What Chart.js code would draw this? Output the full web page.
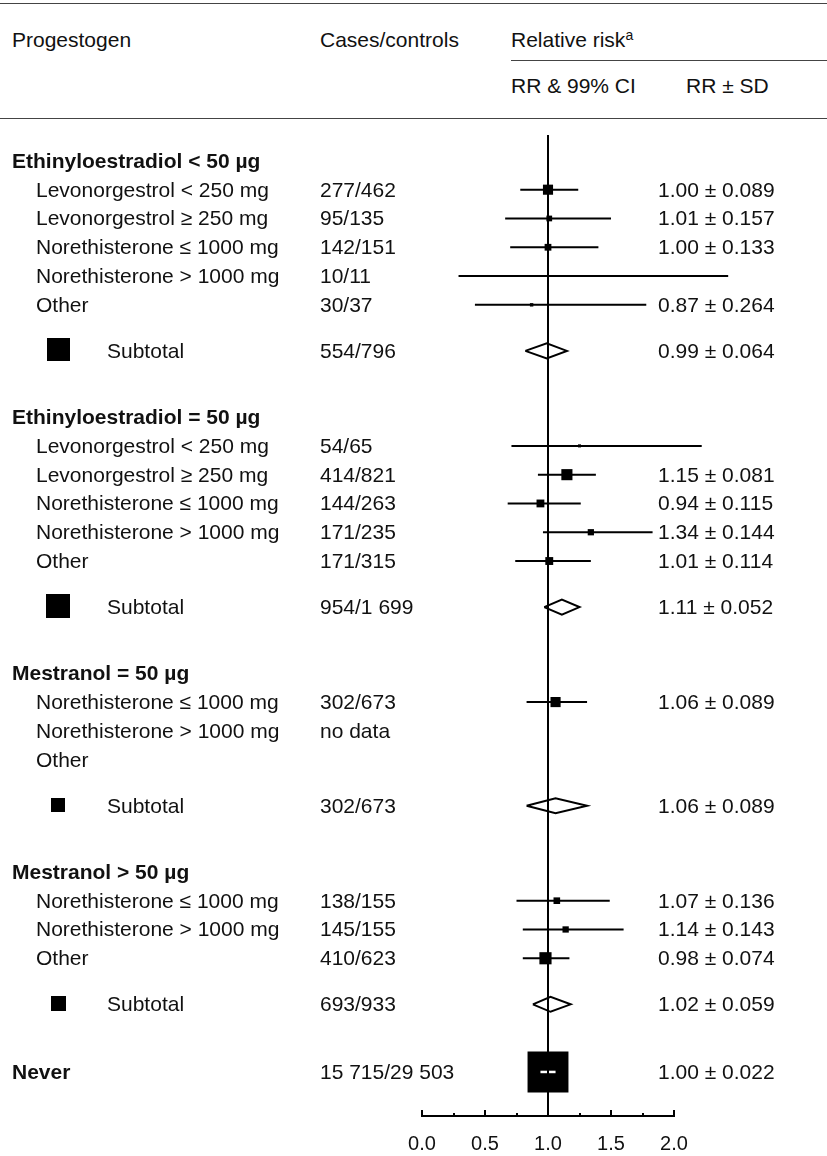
<!DOCTYPE html>
<html>
<head>
<meta charset="utf-8">
<title>Relative risk by progestogen</title>
<script src="https://cdn.jsdelivr.net/npm/chart.js@4.4.1/dist/chart.umd.min.js"></script>
<style>
  html, body { margin: 0; padding: 0; background: #fff; }
  body { font-family: 'Liberation Sans', Arial, sans-serif; color: #111; }
  #page { position: relative; width: 827px; height: 1156px; overflow: hidden; }
  #plot { position: absolute; left: 0; top: 0; }
  .t { position: absolute; font-size: 21px; line-height: 24px; white-space: nowrap; }
  .b { font-weight: bold; }
  .rule { position: absolute; height: 0; border-top: 1.5px solid #444; }
  .sq { position: absolute; background: #000; }
  sup { font-size: 14px; vertical-align: 7px; line-height: 0; }
</style>
</head>
<body>
<div id="page">
  <div class="rule" style="left:0;right:0;top:3px"></div>
  <div class="t" style="left:12px;top:28px">Progestogen</div>
  <div class="t" style="left:320px;top:28px">Cases/controls</div>
  <div class="t" style="left:511px;top:28px">Relative risk<sup>a</sup></div>
  <div class="rule" style="left:511px;right:0;top:60px"></div>
  <div class="t" style="left:511px;top:74px">RR &amp; 99% CI</div>
  <div class="t" style="left:686px;top:74px">RR ± SD</div>
  <div class="rule" style="left:0;right:0;top:118px"></div>
  <canvas id="plot" width="827" height="1156"></canvas>
  <div id="rows"></div>
</div>
<script>
// Oestrogen groups
const groups = ['Ethinyloestradiol < 50 µg', 'Ethinyloestradiol = 50 µg', 'Mestranol = 50 µg', 'Mestranol > 50 µg'];

// Progestogen rows (group index per row)
const rowGroup = [0, 0, 0, 0, 0, 1, 1, 1, 1, 1, 2, 2, 2, 3, 3, 3];
const rowLabels = [
    'Levonorgestrol < 250 mg', 'Levonorgestrol ≥ 250 mg', 'Norethisterone ≤ 1000 mg', 'Norethisterone > 1000 mg', 'Other',
    'Levonorgestrol < 250 mg', 'Levonorgestrol ≥ 250 mg', 'Norethisterone ≤ 1000 mg', 'Norethisterone > 1000 mg', 'Other',
    'Norethisterone ≤ 1000 mg', 'Norethisterone > 1000 mg', 'Other',
    'Norethisterone ≤ 1000 mg', 'Norethisterone > 1000 mg', 'Other'
];
const rowCases = ['277/462', '95/135', '142/151', '10/11', '30/37',
    '54/65', '414/821', '144/263', '171/235', '171/315',
    '302/673', 'no data', '',
    '138/155', '145/155', '410/623'];
const rowRR = [1.00, 1.01, 1.00, null, 0.87,
    1.25, 1.15, 0.94, 1.34, 1.01,
    1.06, null, null,
    1.07, 1.14, 0.98];
const rowSD = [0.089, 0.157, 0.133, null, 0.264,
    null, 0.081, 0.115, 0.144, 0.114,
    0.089, null, null,
    0.136, 0.143, 0.074];
const rowLow = [0.78, 0.66, 0.70, 0.29, 0.42,
    0.71, 0.92, 0.68, 0.96, 0.74,
    0.83, null, null,
    0.75, 0.80, 0.80];
const rowHigh = [1.24, 1.50, 1.40, 2.43, 1.78,
    2.22, 1.38, 1.26, 1.83, 1.34,
    1.31, null, null,
    1.49, 1.60, 1.17];

// Subtotals per group
const subCases = ['554/796', '954/1 699', '302/673', '693/933'];
const subRR = [0.99, 1.11, 1.06, 1.02];
const subSD = [0.064, 0.052, 0.089, 0.059];
const subLow = [0.82, 0.97, 0.83, 0.88];
const subHigh = [1.15, 1.25, 1.31, 1.18];

// Never users
const neverCases = '15 715/29 503';
const neverRR = 1.00;
const neverSD = 0.022;
const neverLow = 0.94;
const neverHigh = 1.06;

// Axis
const xTicks = { min: 0, max: 2, step: 0.25 };

// ---- layout (row slots, not data) ----
const ITEM_GAP = 1, SUB_GAP = 1.6, HEAD_GAP = 2.3, NEVER_GAP = 2.35;
const Y_MIN = -0.9, Y_MAX = 33.18;
const MARKER_K = 0.9;          // marker side (px) = K / SD
const DIAMOND_H = 0.26;        // diamond half height in row units
const subBoxSize = [23, 24, 14, 15];

const headSlot = [], itemSlot = [], subSlot = [];
let cur = 0;
groups.forEach((g, gi) => {
    headSlot[gi] = cur;
    const n = rowGroup.filter(v => v === gi).length;
    for (let j = 0; j < n; j++) itemSlot.push(cur + ITEM_GAP * (j + 1));
    subSlot[gi] = cur + n + SUB_GAP;
    cur = subSlot[gi] + HEAD_GAP;
});
const neverSlot = subSlot[subSlot.length - 1] + NEVER_GAP;

function markerSide(sd, lo, hi) {
    const s = sd != null ? sd : (hi - lo) / (2 * 2.576);
    return MARKER_K / s;
}

// CI lines, broken between rows
const ciData = [];
itemSlot.forEach((y, i) => {
    if (rowLow[i] == null) return;
    ciData.push({ x: rowLow[i], y: y }, { x: rowHigh[i], y: y }, { x: null, y: null });
});
ciData.push({ x: neverLow, y: neverSlot }, { x: neverHigh, y: neverSlot });

// Point estimates
const markers = [];
itemSlot.forEach((y, i) => {
    if (rowRR[i] == null) return;
    markers.push({ x: rowRR[i], y: y, side: markerSide(rowSD[i], rowLow[i], rowHigh[i]), lo: rowLow[i], hi: rowHigh[i] });
});
markers.push({ x: neverRR, y: neverSlot, side: markerSide(neverSD), lo: neverLow, hi: neverHigh });

// Subtotal diamonds
const diamondSets = subRR.map((rr, gi) => {
    const y = subSlot[gi];
    return {
        type: 'scatter',
        showLine: true,
        data: [
            { x: subLow[gi], y: y }, { x: rr, y: y - DIAMOND_H },
            { x: subHigh[gi], y: y }, { x: rr, y: y + DIAMOND_H },
            { x: subLow[gi], y: y }
        ],
        borderColor: '#000',
        borderWidth: 2,
        pointRadius: 0,
        tension: 0,
        fill: false
    };
});

// white CI drawn inside a marker when the CI fits in it
const innerCiPlugin = {
    id: 'innerCi',
    afterDatasetDraw(chart, args) {
        if (args.index !== 1) return;
        const xs = chart.scales.x, ys = chart.scales.y, ctx = chart.ctx;
        markers.forEach(m => {
            const c = xs.getPixelForValue(m.x);
            const lo = xs.getPixelForValue(m.lo), hi = xs.getPixelForValue(m.hi);
            if (lo < c - m.side / 2 || hi > c + m.side / 2) return;
            const py = ys.getPixelForValue(m.y);
            ctx.save();
            ctx.strokeStyle = '#fff';
            ctx.lineWidth = 2.5;
            ctx.beginPath();
            ctx.moveTo(lo, py);
            ctx.lineTo(hi, py);
            ctx.stroke();
            ctx.restore();
        });
    }
};

// tick marks pointing up from the axis
const upTicksPlugin = {
    id: 'upTicks',
    afterDraw(chart) {
        const xs = chart.scales.x, ctx = chart.ctx;
        const base = chart.chartArea.bottom;
        ctx.save();
        ctx.strokeStyle = '#000';
        ctx.lineWidth = 2;
        xs.ticks.forEach(t => {
            const px = Math.round(xs.getPixelForValue(t.value));
            const len = isHalf(t.value) ? 6 : 3;
            ctx.beginPath();
            ctx.moveTo(px, base);
            ctx.lineTo(px, base - len);
            ctx.stroke();
        });
        ctx.restore();
    }
};

function isHalf(v) {
    return Math.abs(v * 2 - Math.round(v * 2)) < 1e-9;
}

const chart = new Chart(document.getElementById('plot'), {
    type: 'scatter',
    data: {
        datasets: [
            {
                // reference line at RR = 1
                showLine: true,
                data: [{ x: 1, y: Y_MIN }, { x: 1, y: Y_MAX }],
                borderColor: '#000',
                borderWidth: 2,
                pointRadius: 0
            },
            {
                data: markers.map(m => ({ x: m.x, y: m.y })),
                pointStyle: 'rect',
                pointRadius: markers.map(m => m.side / Math.SQRT2),
                backgroundColor: '#000',
                borderWidth: 0,
                clip: false
            },
            ...diamondSets,
            {
                showLine: true,
                data: ciData,
                borderColor: '#000',
                borderWidth: 2,
                pointRadius: 0,
                spanGaps: false,
                clip: false
            }
        ]
    },
    options: {
        responsive: false,
        animation: false,
        events: [],
        layout: { padding: { left: 422, right: 153, top: 135, bottom: -16 } },
        plugins: {
            legend: { display: false },
            tooltip: { enabled: false }
        },
        scales: {
            x: {
                type: 'linear',
                min: xTicks.min,
                max: xTicks.max,
                grid: { display: false, drawTicks: false },
                border: { display: true, color: '#000', width: 2 },
                ticks: {
                    stepSize: xTicks.step,
                    autoSkip: false,
                    maxRotation: 0,
                    padding: 16,
                    color: '#111',
                    font: { family: 'Liberation Sans', size: 20 },
                    callback: v => isHalf(v) ? v.toFixed(1) : ''
                }
            },
            y: {
                type: 'linear',
                display: false,
                reverse: true,
                min: Y_MIN,
                max: Y_MAX
            }
        }
    },
    plugins: [innerCiPlugin, upTicksPlugin]
});

// ---- table text, placed on the chart's own row positions ----
const rowsEl = document.getElementById('rows');
const yScale = chart.scales.y;

function addText(txt, x, slot, cls) {
    if (!txt) return;
    const el = document.createElement('div');
    el.className = 't' + (cls ? ' ' + cls : '');
    el.textContent = txt;
    el.style.left = x + 'px';
    el.style.top = (yScale.getPixelForValue(slot) - 12) + 'px';
    rowsEl.appendChild(el);
}

function addBox(size, slot) {
    const el = document.createElement('div');
    el.className = 'sq';
    el.style.width = size + 'px';
    el.style.height = size + 'px';
    el.style.left = (58 - size / 2) + 'px';
    el.style.top = (yScale.getPixelForValue(slot) - 1 - size / 2) + 'px';
    rowsEl.appendChild(el);
}

function rrText(rr, sd) {
    return `${rr.toFixed(2)} ± ${sd.toFixed(3)}`;
}

groups.forEach((g, gi) => addText(g, 12, headSlot[gi], 'b'));

itemSlot.forEach((slot, i) => {
    addText(rowLabels[i], 36, slot);
    addText(rowCases[i], 320, slot);
    if (rowSD[i] != null) addText(rrText(rowRR[i], rowSD[i]), 658, slot);
});

subSlot.forEach((slot, gi) => {
    addBox(subBoxSize[gi], slot);
    addText('Subtotal', 107, slot);
    addText(subCases[gi], 320, slot);
    addText(rrText(subRR[gi], subSD[gi]), 658, slot);
});

addText('Never', 12, neverSlot, 'b');
addText(neverCases, 320, neverSlot);
addText(rrText(neverRR, neverSD), 658, neverSlot);
</script>
</body>
</html>
